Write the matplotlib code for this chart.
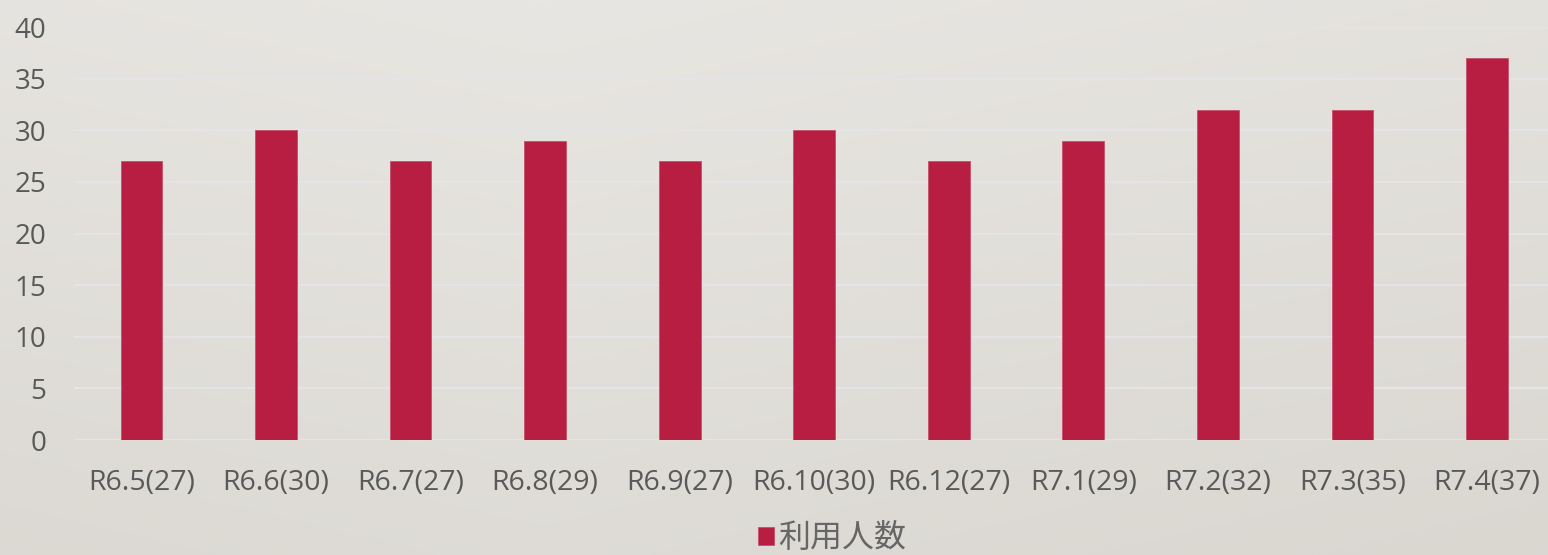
import numpy as np
import matplotlib
matplotlib.use('Agg')
import matplotlib.pyplot as plt
from matplotlib.colors import LinearSegmentedColormap

categories = ['R6.5(27)', 'R6.6(30)', 'R6.7(27)', 'R6.8(29)', 'R6.9(27)', 'R6.10(30)',
              'R6.12(27)', 'R7.1(29)', 'R7.2(32)', 'R7.3(35)', 'R7.4(37)']
users = [27, 30, 27, 29, 27, 30, 27, 29, 32, 32, 37]
series_name = '利用人数'

bar_color = '#B81E42'
text_color = '#595959'

plt.rcParams['font.family'] = ['Open Sans', 'Noto Sans CJK JP', 'DejaVu Sans']

fig = plt.figure(figsize=(15.48, 5.55), dpi=100)

# background gradient, lighter toward the top left
bg = fig.add_axes([0, 0, 1, 1], zorder=-10)
yy, xx = np.mgrid[0:1:200j, 0:1:400j]
g = 0.55 * yy + 0.45 * np.hypot(xx - 0.35, 0) * 0.8
cmap = LinearSegmentedColormap.from_list('bg', ['#E8E6E2', '#DAD7D1'])
bg.imshow(g, cmap=cmap, aspect='auto', extent=[0, 1, 0, 1], origin='upper')
bg.axis('off')

ax = fig.add_axes([0.048, 0.2072, 0.956, 0.7441])
ax.patch.set_alpha(0)
x = np.arange(len(categories))
ax.bar(x, users, width=0.31, color=bar_color, edgecolor='#C4506A', linewidth=0.6,
       label=series_name, zorder=3)
ax.set_xlim(-0.5, len(categories) - 0.5)
ax.set_ylim(0, 40)
ax.set_yticks(range(0, 41, 5))
ax.set_xticks(x)
ax.set_xticklabels(categories)
ax.grid(axis='y', color='#E4E4E6', linewidth=1.6, zorder=0)
for s in ax.spines.values():
    s.set_visible(False)
ax.tick_params(length=0, labelsize=20, colors=text_color)
ax.tick_params(axis='x', pad=21, labelsize=20.5)
ax.tick_params(axis='y', pad=20)

leg = fig.legend(loc='lower center', bbox_to_anchor=(0.5375, -0.052), frameon=False,
                 fontsize=23, handlelength=0.5, handleheight=0.5, handletextpad=0.15)
for t in leg.get_texts():
    t.set_color('#666666')

fig.savefig('out.png', dpi=100)
